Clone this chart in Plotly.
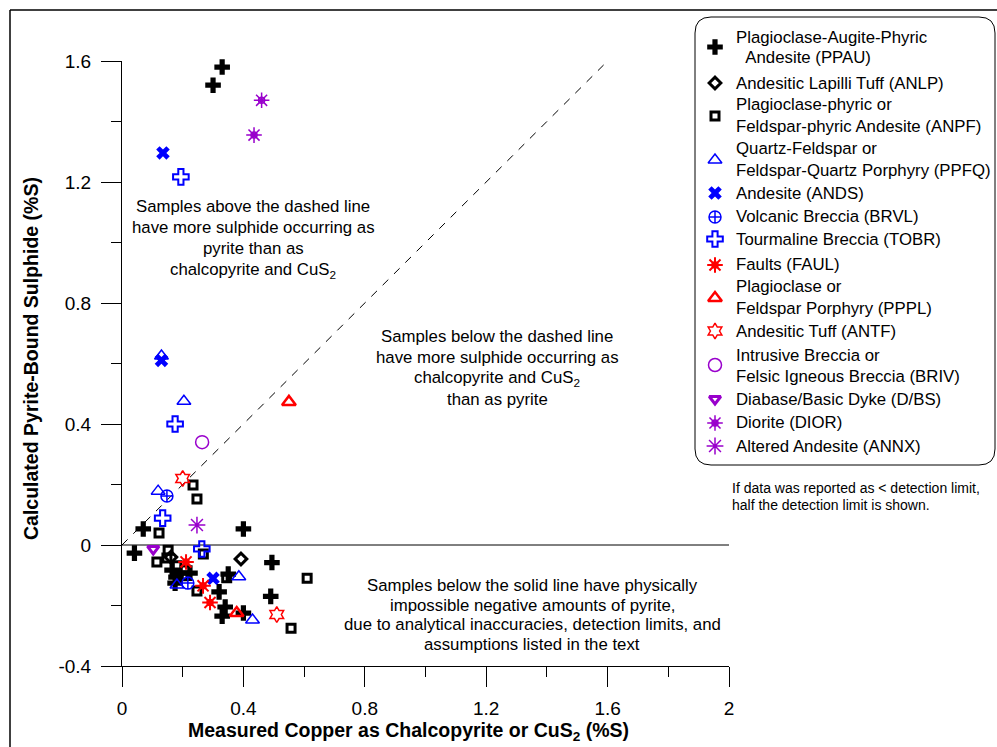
import plotly.graph_objects as go

# ---------------- data ----------------
x_tickvals = [0, 0.4, 0.8, 1.2, 1.6, 2]
x_ticktext = ["0", "0.4", "0.8", "1.2", "1.6", "2"]
y_tickvals = [-0.4, 0, 0.4, 0.8, 1.2, 1.6]
y_ticktext = ["-0.4", "0", "0.4", "0.8", "1.2", "1.6"]
x_minor = [0.2, 0.6, 1.0, 1.4, 1.8]
y_minor = [-0.2, 0.2, 0.6, 1.0, 1.4]

ppau_x = [0.33, 0.30, 0.07, 0.40, 0.041, 0.494, 0.49, 0.40, 0.34, 0.33, 0.32, 0.35, 0.165, 0.178, 0.224, 0.175]
ppau_y = [1.58, 1.52, 0.053, 0.053, -0.027, -0.058, -0.17, -0.225, -0.205, -0.235, -0.155, -0.096, -0.083, -0.106, -0.093, -0.126]
anlp_x = [0.392, 0.161]
anlp_y = [-0.046, -0.040]
anpf_x = [0.234, 0.247, 0.122, 0.152, 0.268, 0.61, 0.557, 0.345, 0.247, 0.115, 0.148, 0.181, 0.208, 0.201]
anpf_y = [0.198, 0.152, 0.04, -0.017, -0.03, -0.11, -0.275, -0.108, -0.152, -0.056, -0.043, -0.069, -0.083, -0.102]
ppfq_x = [0.13, 0.204, 0.119, 0.385, 0.43, 0.181]
ppfq_y = [0.625, 0.475, 0.178, -0.105, -0.248, -0.132]
ands_x = [0.135, 0.13, 0.30]
ands_y = [1.296, 0.61, -0.11]
brvl_x = [0.148, 0.217]
brvl_y = [0.162, -0.126]
tobr_x = [0.194, 0.175, 0.134, 0.263]
tobr_y = [1.217, 0.40, 0.089, -0.013]
faul_x = [0.211, 0.267, 0.29]
faul_y = [-0.056, -0.135, -0.19]
pppl_x = [0.55, 0.378]
pppl_y = [0.473, -0.225]
antf_x = [0.20, 0.51]
antf_y = [0.22, -0.23]
briv_x = [0.264]
briv_y = [0.34]
dbs_x = [0.103]
dbs_y = [-0.013]
dior_x = [0.46, 0.435]
dior_y = [1.47, 1.355]
annx_x = [0.247]
annx_y = [0.066]

series_names = [
    ["Plagioclase-Augite-Phyric", "  Andesite (PPAU)"],
    ["Andesitic Lapilli Tuff (ANLP)"],
    ["Plagioclase-phyric or", "Feldspar-phyric Andesite (ANPF)"],
    ["Quartz-Feldspar or", "Feldspar-Quartz Porphyry (PPFQ)"],
    ["Andesite (ANDS)"],
    ["Volcanic Breccia (BRVL)"],
    ["Tourmaline Breccia (TOBR)"],
    ["Faults (FAUL)"],
    ["Plagioclase or", "Feldspar Porphyry (PPPL)"],
    ["Andesitic Tuff (ANTF)"],
    ["Intrusive Breccia or", "Felsic Igneous Breccia (BRIV)"],
    ["Diabase/Basic Dyke (D/BS)"],
    ["Diorite (DIOR)"],
    ["Altered Andesite (ANNX)"],
]
series_data = [
    (ppau_x, ppau_y), (anlp_x, anlp_y), (anpf_x, anpf_y), (ppfq_x, ppfq_y),
    (ands_x, ands_y), (brvl_x, brvl_y), (tobr_x, tobr_y), (faul_x, faul_y),
    (pppl_x, pppl_y), (antf_x, antf_y), (briv_x, briv_y), (dbs_x, dbs_y),
    (dior_x, dior_y), (annx_x, annx_y),
]

# ---------------- styles ----------------
BLK, BLU, RED, PUR = "#000000", "#0000FF", "#FF0000", "#9900CC"
def mk(symbol, color, size, lw=0):
    return dict(symbol=symbol, color=color, size=size, line=dict(color=color, width=lw))
series_styles = [
    [mk("cross", BLK, 13)],
    [mk("diamond-open", BLK, 9, 3)],
    [mk("square-open", BLK, 8, 3)],
    [mk("triangle-up-open", BLU, 12, 1.5)],
    [mk("x", BLU, 12)],
    [mk("circle-cross-open", BLU, 12, 1.5)],
    [mk("cross-open", BLU, 13, 2)],
    [mk("asterisk-open", RED, 13, 2), mk("circle-open", RED, 6, 1.5)],
    [mk("triangle-up-open", RED, 12, 2.5)],
    [mk("hexagram-open", RED, 12, 1.5)],
    [mk("circle-open", PUR, 13, 1.5)],
    [mk("triangle-down-open", PUR, 10, 3)],
    [mk("asterisk-open", PUR, 13, 1.5), mk("circle-open", PUR, 6, 1.5)],
    [mk("asterisk-open", PUR, 14, 1.5)],
]

FONT = "Arial, 'Liberation Sans', sans-serif"
TXT = 16.8
W, H = 997, 747
PL, PR, PT, PB = 122, 729, 61, 666

fig = go.Figure()
for (xs, ys), styles in zip(series_data, series_styles):
    for st in styles:
        fig.add_trace(go.Scatter(x=xs, y=ys, mode="markers", marker=st,
                                 xaxis="x", yaxis="y", showlegend=False,
                                 hoverinfo="skip", cliponaxis=False))

# ---------------- custom legend (pixel overlay axes) ----------------
LEG_SYM_X = 715
LEG_TXT_X = 734
leg_sym_y = [47, 83, 116, 160, 193, 217, 239, 265, 298, 331, 365, 399, 423, 446]
leg_line_y = [[37.7, 57.7], [83.3], [104.3, 126], [148.3, 170.7], [193.3], [216.7], [239.3],
              [264.3], [286.7, 308.3], [331], [355, 376], [399], [422.7], [446]]

for sy, styles in zip(leg_sym_y, series_styles):
    for st in styles:
        fig.add_trace(go.Scatter(x=[LEG_SYM_X], y=[sy], mode="markers", marker=st,
                                 xaxis="x2", yaxis="y2", showlegend=False,
                                 hoverinfo="skip", cliponaxis=False))

annotations = []
def txt(x, y, s, size, xanchor="left", bold=False):
    if bold:
        s = "<b>" + s + "</b>"
    annotations.append(dict(x=x, y=y, xref="x2", yref="y2", text=s, showarrow=False,
                            xanchor=xanchor, yanchor="middle",
                            font=dict(family=FONT, size=size, color="black")))

for names, ys in zip(series_names, leg_line_y):
    for n, yy in zip(names, ys):
        txt(LEG_TXT_X, yy, n.replace("  ", "&nbsp;&nbsp;"), TXT)

txt(730, 488, "If data was reported as &lt; detection limit,", 14)
txt(730, 505, "half the detection limit is shown.", 14)

block1 = ["Samples above the dashed line", "have more sulphide occurring as",
          "pyrite than as", "chalcopyrite and CuS<sub>2</sub>"]
for s, yy in zip(block1, [206, 227, 248, 270]):
    txt(253, yy, s, TXT, "center")
block2 = ["Samples below the dashed line", "have more sulphide occurring as",
          "chalcopyrite and CuS<sub>2</sub>", "than as pyrite"]
for s, yy in zip(block2, [336, 357, 378, 399]):
    txt(497, yy, s, TXT, "center")
block3 = ["Samples below the solid line have physically", "impossible negative amounts of pyrite,",
          "due to analytical inaccuracies, detection limits, and", "assumptions listed in the text"]
for s, yy in zip(block3, [585, 605, 624, 644]):
    txt(532, yy, s, TXT, "center")

txt(408, 731, "Measured Copper as Chalcopyrite or CuS<sub>2</sub> (%S)", 19.5, "center", bold=True)
annotations.append(dict(x=31, y=359, xref="x2", yref="y2", showarrow=False, textangle=-90,
                        text="<b>Calculated Pyrite-Bound Sulphide (%S)</b>",
                        xanchor="center", yanchor="middle",
                        font=dict(family=FONT, size=19.5, color="black")))

# ---------------- shapes ----------------
def rounded_rect(x0, y0, x1, y1, r):
    return (f"M{x0+r},{y0} L{x1-r},{y0} Q{x1},{y0} {x1},{y0+r} L{x1},{y1-r} Q{x1},{y1} {x1-r},{y1} "
            f"L{x0+r},{y1} Q{x0},{y1} {x0},{y1-r} L{x0},{y0+r} Q{x0},{y0} {x0+r},{y0} Z")

shapes = [
    dict(type="line", xref="x", yref="y", x0=0, y0=0, x1=2, y1=0,
         line=dict(color="black", width=1), layer="below"),
    dict(type="line", xref="x", yref="y", x0=0, y0=0, x1=1.6, y1=1.6,
         line=dict(color="black", width=1, dash="8px,8px"), layer="below"),
    dict(type="line", xref="x2", yref="y2", x0=10, y0=10, x1=10, y1=H + 5,
         line=dict(color="black", width=1.5)),
    dict(type="line", xref="x2", yref="y2", x0=10, y0=10, x1=W + 5, y1=10,
         line=dict(color="black", width=1.5)),
    dict(type="path", xref="x2", yref="y2", path=rounded_rect(695, 17, 995, 465, 16),
         line=dict(color="black", width=1), fillcolor="rgba(0,0,0,0)"),
]

axis_common = dict(showgrid=False, zeroline=False, showline=True, linecolor="black",
                   linewidth=1, ticks="outside", ticklen=20, tickwidth=1, tickcolor="black",
                   tickfont=dict(family=FONT, size=19, color="black"), fixedrange=True,
                   automargin=False)

fig.update_layout(
    template="none",
    width=W, height=H, autosize=False,
    margin=dict(l=0, r=0, t=0, b=0, pad=0, autoexpand=False),
    paper_bgcolor="white", plot_bgcolor="rgba(0,0,0,0)",
    showlegend=False,
    xaxis=dict(domain=[PL / W, PR / W], range=[0, 2], anchor="y",
               tickmode="array", tickvals=x_tickvals, ticktext=x_ticktext,
               ticklabelstandoff=5,
               minor=dict(tickmode="array", tickvals=x_minor, ticks="outside",
                          ticklen=10, tickcolor="black", showgrid=False),
               **axis_common),
    yaxis=dict(domain=[1 - PB / H, 1 - PT / H], range=[-0.4, 1.6], anchor="x",
               tickmode="array", tickvals=y_tickvals, ticktext=y_ticktext,
               ticklabelstandoff=6,
               minor=dict(tickmode="array", tickvals=y_minor, ticks="outside",
                          ticklen=10, tickcolor="black", showgrid=False),
               **axis_common),
    xaxis2=dict(domain=[0, 1], range=[0, W], anchor="y2", visible=False,
                fixedrange=True, automargin=False),
    yaxis2=dict(domain=[0, 1], range=[H, 0], anchor="x2", visible=False,
                fixedrange=True, automargin=False),
    shapes=shapes,
    annotations=annotations,
)

fig.write_html("out.html")
